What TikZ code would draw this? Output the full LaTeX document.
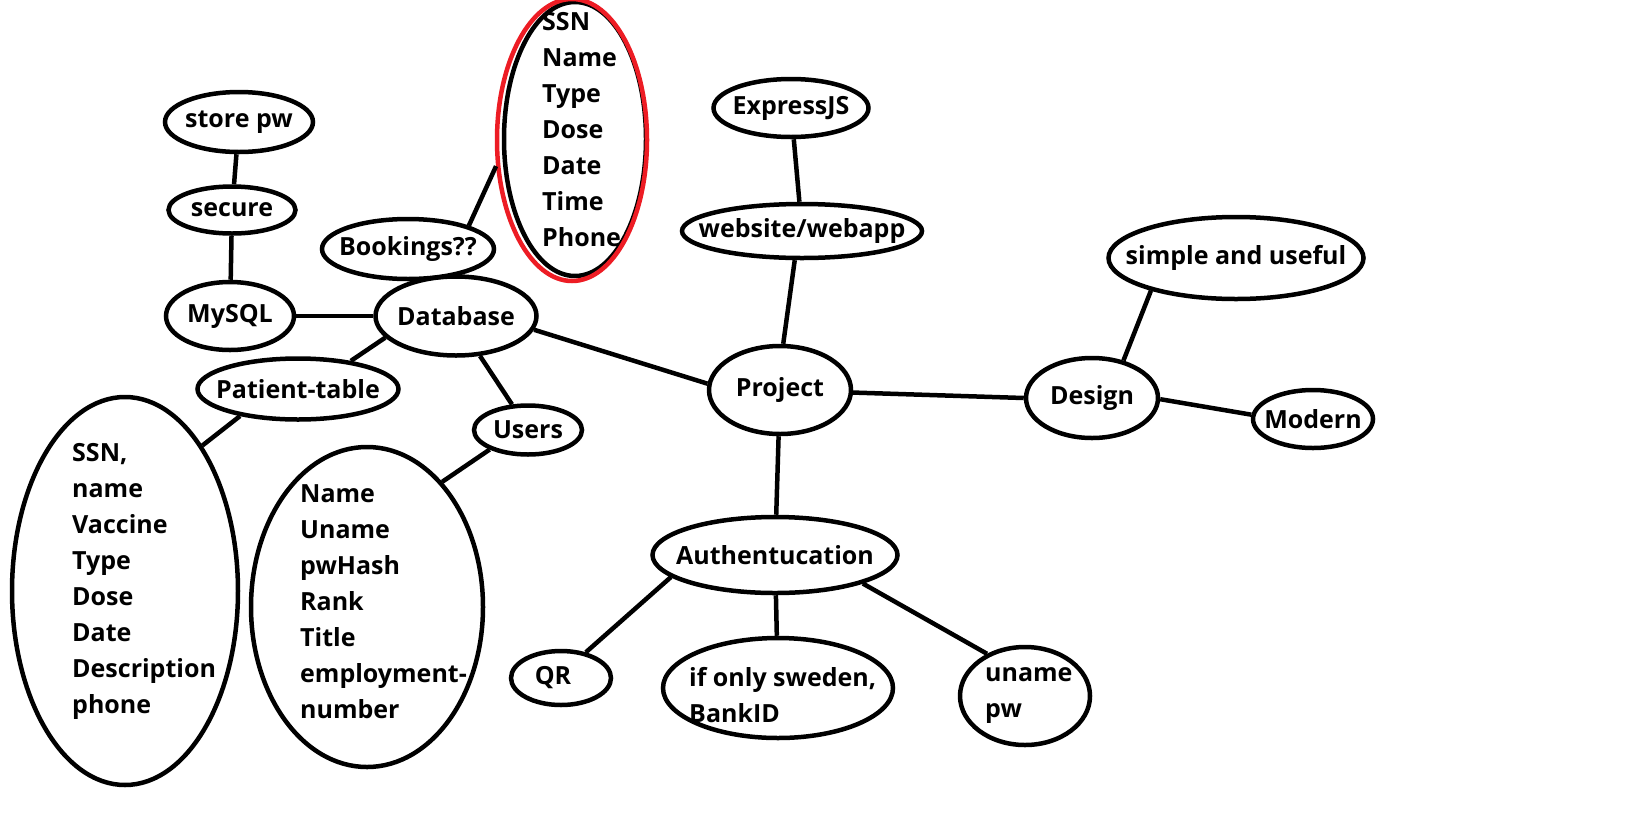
\documentclass[tikz,border=0pt]{standalone}
\usepackage{fontspec}
\setmainfont{Open Sans}
\usetikzlibrary{shapes.geometric}
\definecolor{paintred}{RGB}{237,28,36}
\begin{document}
\begin{tikzpicture}[x=1pt,y=-1pt,
  every node/.style={font=\bfseries\fontsize{25}{36}\selectfont},
  bub/.style={ellipse,draw=black,line width=4.5pt,inner sep=0pt},
  lst/.style={inner sep=0pt,align=left,anchor=west},
  conn/.style={line width=4.5pt}]
\fill[white] (0,0) rectangle (1627,817);
\useasboundingbox (0,0) rectangle (1627,817);
% nodes
\node[bub,minimum width=148,minimum height=60,label=center:{store pw}] (storepw) at (239,122) {};
\node[bub,minimum width=127,minimum height=47,label=center:{secure}] (secure) at (232,210) {};
\node[bub,minimum width=128,minimum height=68,label=center:{MySQL}] (mysql) at (230,316) {};
\node[bub,minimum width=172,minimum height=60,label=center:{Bookings??}] (book) at (408,249) {};
\node[bub,minimum width=161,minimum height=79,label=center:{Database}] (db) at (456,316) {};
\node[bub,minimum width=201,minimum height=61,label=center:{Patient-table}] (pt) at (298,389) {};
\node[bub,minimum width=226,minimum height=388] (plist) at (125,591) {};
\node[lst] (plisttxt) at (72,581) {SSN,\\name\\Vaccine\\Type\\Dose\\Date\\Description\\phone};
\node[bub,minimum width=108,minimum height=49,label=center:{Users}] (users) at (528,430) {};
\node[bub,minimum width=232,minimum height=320] (ulist) at (367,607) {};
\node[lst] (ulisttxt) at (300,602) {Name\\Uname\\pwHash\\Rank\\Title\\employment-\\number};
\node[bub,minimum width=142,minimum height=274] (redin) at (575,139) {};
\node[bub,draw=paintred,line width=4.5pt,minimum width=150,minimum height=282] (red) at (572,140) {};
\node[lst] (redtxt) at (542,130) {SSN\\Name\\Type\\Dose\\Date\\Time\\Phone};
\node[bub,minimum width=155,minimum height=58,label=center:{ExpressJS}] (express) at (791,108) {};
\node[bub,minimum width=240,minimum height=54,label=center:{website/webapp}] (web) at (802,231) {};
\node[bub,minimum width=142,minimum height=88,label=center:{Project}] (project) at (780,390) {};
\node[bub,minimum width=245,minimum height=76,label=center:{Authentucation}] (auth) at (775,555) {};
\node[bub,minimum width=100,minimum height=54,label={[xshift=-8pt]center:QR}] (qr) at (561,678) {};
\node[bub,minimum width=230,minimum height=100] (sweden) at (778,688) {};
\node[lst] (swedentxt) at (689,695) {if only sweden,\\BankID};
\node[bub,minimum width=130,minimum height=98] (uname) at (1025,696) {};
\node[lst] (unametxt) at (985,696) {uname\\pw};
\node[bub,minimum width=132,minimum height=80,label=center:{Design}] (design) at (1092,398) {};
\node[bub,minimum width=120,minimum height=58,label=center:{Modern}] (modern) at (1313,419) {};
\node[bub,minimum width=255,minimum height=82,label=center:{simple and useful}] (simple) at (1236,258) {};
% connectors
\draw[conn] (storepw) -- (secure);
\draw[conn] (secure) -- (mysql);
\draw[conn] (mysql) -- (db);
\draw[conn] (book.21) -- (red.199);
\draw[conn] (db.197) -- (pt.28);
\draw[conn] (db.301) -- (users.122);
\draw[conn] (db.350) -- (project.175);
\draw[conn] (pt.205) -- (plist.62);
\draw[conn] (users.207) -- (ulist.59);
\draw[conn] (express) -- (web);
\draw[conn] (web.256) -- (project.86);
\draw[conn] (project.358) -- (design.180);
\draw[conn] (design.50) -- (simple.201);
\draw[conn] (design.-1) -- (modern.176);
\draw[conn] (project) -- (auth);
\draw[conn] (auth.192) -- (qr.46);
\draw[conn] (auth) -- (sweden);
\draw[conn] (auth.342) -- (uname.132);
\end{tikzpicture}
\end{document}
